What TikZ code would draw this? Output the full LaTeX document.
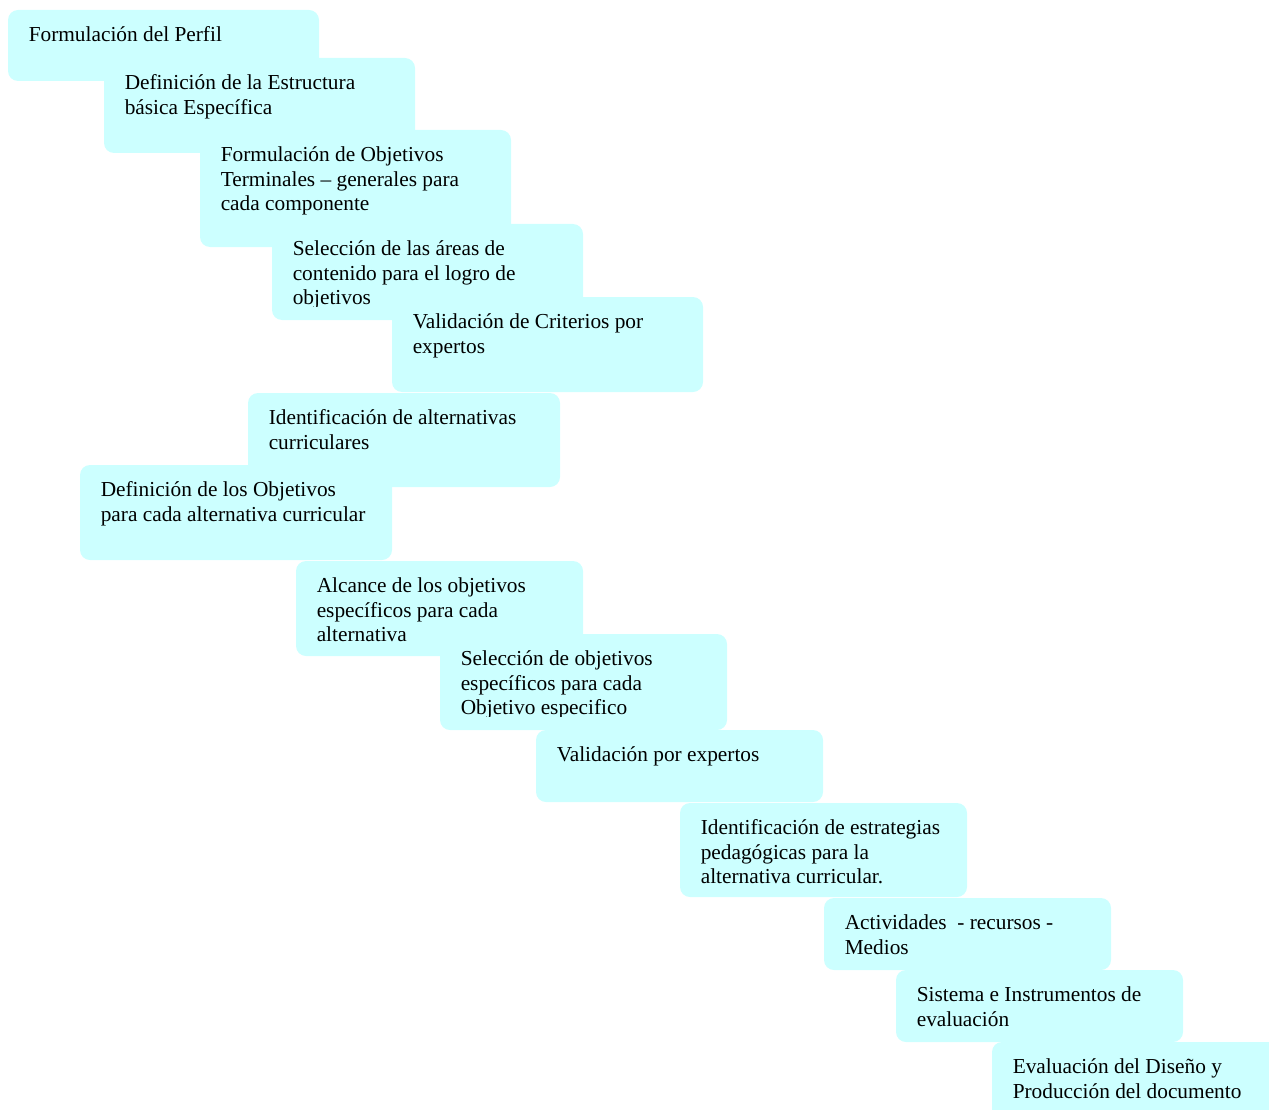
\documentclass[tikz,border=0pt]{standalone}
\usepackage{fontspec}
\setmainfont{Liberation Serif}
\newcommand{\mlines}[1]{\vtop{\baselineskip=18.5pt\lineskiplimit=-100pt\halign{##\hfil\cr#1\crcr}}}
\newcommand{\stairbox}[6]{%
  \fill[boxfill] (#2,#3) rectangle (#4,#5);
  \begin{scope}
    \clip (#2,#3) rectangle (#4,{#5-14});
    \node[txt] (#1) at ({#2+20.5},{#3+31.5}) {\mlines{#6}};
  \end{scope}}
\begin{document}
\begin{tikzpicture}[x=0.75pt,y=-0.75pt,
  boxfill/.style={fill=cyanbox, rounded corners=7.5pt},
  txt/.style={anchor=base west, inner sep=0pt, font=\fontsize{16}{18.5}\selectfont, text=black}]
\definecolor{cyanbox}{HTML}{CCFFFF}
\useasboundingbox (0,0) rectangle (1269,1109);
\clip (0,0) rectangle (1269,1109);
\stairbox{s1}{8}{10}{319}{81}{Formulación del Perfil}
\stairbox{s2}{104}{58}{415}{153}{Definición de la Estructura\cr básica Específica}
\stairbox{s3}{200}{130}{511}{247}{Formulación de Objetivos\cr Terminales – generales para\cr cada componente}
\stairbox{s4}{272}{224}{583}{320}{Selección de las áreas de\cr contenido para el logro de\cr objetivos}
\stairbox{s5}{392}{297}{703}{392}{Validación de Criterios por\cr expertos}
\stairbox{s6}{248}{393}{560}{487}{Identificación de alternativas\cr curriculares}
\stairbox{s7}{80}{465}{392}{560}{Definición de los Objetivos\cr para cada alternativa curricular}
\stairbox{s8}{296}{561}{583}{656}{Alcance de los objetivos\cr específicos para cada\cr alternativa}
\stairbox{s9}{440}{634}{727}{730}{Selección de objetivos\cr específicos para cada\cr Objetivo especifico}
\stairbox{s10}{536}{730}{823}{802}{Validación por expertos}
\stairbox{s11}{680}{803}{967}{897}{Identificación de estrategias\cr pedagógicas para la\cr alternativa curricular.}
\stairbox{s12}{824}{898}{1111}{970}{Actividades\ \ - recursos -\cr Medios}
\stairbox{s13}{896}{970}{1183}{1042}{Sistema e Instrumentos de\cr evaluación}
\stairbox{s14}{992}{1042}{1290}{1135}{Evaluación del Diseño y\cr Producción del documento}
\end{tikzpicture}
\end{document}
